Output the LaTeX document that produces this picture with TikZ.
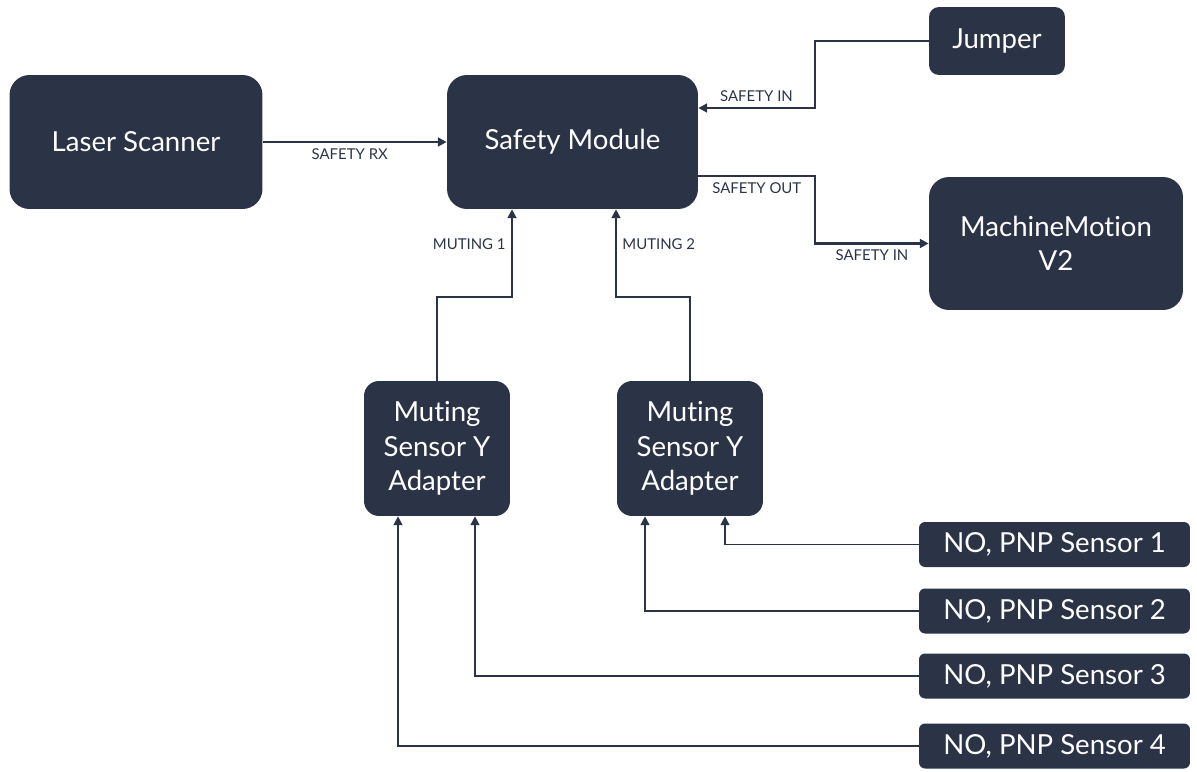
\documentclass[tikz,border=0pt]{standalone}
\usepackage{fontspec}
\setmainfont{Lato}[Ligatures=NoCommon]
\usetikzlibrary{arrows.meta}
\definecolor{navy}{HTML}{2B3447}
\tikzset{
  block/.style={fill=navy, text=white, rounded corners=0.4cm, align=center, inner sep=0pt,
    font=\fontsize{15.7}{19.6}\selectfont},
  sensor/.style={block, rounded corners=0.12cm, minimum width=5.42cm, minimum height=0.9cm},
  wire/.style={draw=navy, line width=1.3pt, -{Triangle[length=5pt,width=5pt]}},
  lbl/.style={text=navy, font=\fontsize{8.5}{10}\selectfont, inner sep=3pt}
}
\begin{document}
\begin{tikzpicture}[x=0.02cm,y=-0.02cm]
    \useasboundingbox (0,0) rectangle (1197,771);
    \node[block, minimum width=5.06cm, minimum height=2.68cm] (laser) at (136,142) {Laser Scanner};
    \node[block, minimum width=5.02cm, minimum height=2.68cm] (safety) at (572.5,142) {Safety Module};
    \node[block, rounded corners=0.2cm, minimum width=2.72cm, minimum height=1.36cm] (jumper) at (997,41) {Jumper};
    \node[block, minimum width=5.08cm, minimum height=2.66cm] (mm) at (1056,243.5) {MachineMotion\\V2};
    \node[block, rounded corners=0.3cm, minimum width=2.92cm, minimum height=2.7cm] (ad1) at (437,448.5) {Muting\\Sensor Y\\Adapter};
    \node[block, rounded corners=0.3cm, minimum width=2.92cm, minimum height=2.7cm] (ad2) at (690,448.5) {Muting\\Sensor Y\\Adapter};
    \foreach \i/\y in {1/544.5, 2/611, 3/676, 4/746}
        \node[sensor] (s\i) at (1054.5,\y) {NO, PNP Sensor \i};
    \draw[wire] (laser) -- (safety) node[lbl, midway, below, xshift=-0.1cm] {SAFETY RX};
    \draw[wire] (jumper.west) -- ++(-114,0) |- ([yshift=0.68cm]safety.east) node[lbl, pos=0.75, above] {SAFETY IN};
    \draw[wire] ([yshift=-0.68cm]safety.east) -- ++(117,0) node[lbl, midway, below] {SAFETY OUT}
        |- (mm.west) node[lbl, pos=0.75, below] {SAFETY IN};
    \draw[wire] (ad1.north) -- ++(0,-84) -| ([xshift=-1.21cm]safety.south) node[lbl, pos=0.8, left] {MUTING 1};
    \draw[wire] (ad2.north) -- ++(0,-84) -| ([xshift=0.87cm]safety.south) node[lbl, pos=0.8, right] {MUTING 2};
    \foreach \i/\a/\dx in {1/ad2/0.7, 2/ad2/-0.9, 3/ad1/0.76, 4/ad1/-0.78}
        \draw[wire, line width=1pt] (s\i.west) -| ([xshift=\dx cm]\a.south);
\end{tikzpicture}
\end{document}
